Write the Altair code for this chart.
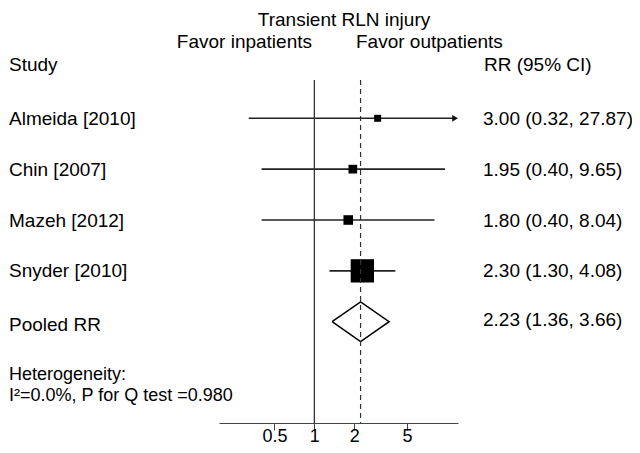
import altair as alt
import pandas as pd

# ---- data ----
studies = ["Almeida [2010]", "Chin [2007]", "Mazeh [2012]", "Snyder [2010]"]
rr = [3.00, 1.95, 1.80, 2.30]
rr_lo = [0.32, 0.40, 0.40, 1.30]
rr_hi = [27.87, 9.65, 8.04, 4.08]
weights = [6.4, 10.0, 12.1, 71.5]
rr_text = ["3.00 (0.32, 27.87)", "1.95 (0.40, 9.65)", "1.80 (0.40, 8.04)", "2.30 (1.30, 4.08)"]

pooled_label = "Pooled RR"
pooled = 2.23
pooled_lo = 1.36
pooled_hi = 3.66
pooled_text = "2.23 (1.36, 3.66)"

x_ticks = [0.5, 1, 2, 5]
x_domain = [0.191, 12.1]
arrow_cap = 11.5

FONT = "Liberation Sans"
FS = 19

df = pd.DataFrame({
    "study": studies, "rr": rr, "lo": rr_lo, "hi": rr_hi, "w": weights,
    "txt": rr_text, "row": list(range(len(studies))),
})
df["hi_c"] = df["hi"].clip(upper=arrow_cap)
df["arrow"] = df["hi"] > arrow_cap
prow = len(studies)
pdf = pd.DataFrame({"label": [pooled_label], "txt": [pooled_text], "row": [prow],
                    "est": [pooled]})

h = 0.39
dia = pd.DataFrame({
    "x": [pooled_lo, pooled, pooled_hi, pooled, pooled_lo],
    "y": [prow, prow - h, prow, prow + h, prow],
    "o": [0, 1, 2, 3, 4],
})

xs = alt.Scale(type="log", domain=x_domain, nice=False, clamp=False)
ys = alt.Scale(domain=[-2.169, 5.992], reverse=True, nice=False, zero=False)

x_axis = alt.Axis(values=x_ticks, title=None, grid=False,
                  labelFontSize=18, labelFont=FONT, labelColor="black", tickSize=7,
                  tickColor="#444", domainColor="#444", labelPadding=11,
                  labelBaseline="alphabetic", labelFlush=False, labelOverlap=False,
                  format="~g")

base = alt.Chart(df)

ci = base.mark_rule(color="#222", strokeWidth=1.6).encode(
    x=alt.X("lo:Q", scale=xs, axis=x_axis),
    x2="hi_c:Q",
    y=alt.Y("row:Q", scale=ys, axis=None),
)

arrow = base.transform_filter("datum.arrow").mark_point(
    shape="triangle-right", filled=True, color="#111", size=45, opacity=1
).encode(x=alt.X("hi_c:Q", scale=xs), y=alt.Y("row:Q", scale=ys))

boxes = base.mark_square(color="black", opacity=1, strokeWidth=0).encode(
    x=alt.X("rr:Q", scale=xs),
    y=alt.Y("row:Q", scale=ys),
    size=alt.Size("w:Q", scale=alt.Scale(domain=[0, 100], range=[0, 760]), legend=None),
)

left_txt = base.mark_text(align="left", baseline="alphabetic", font=FONT, fontSize=FS,
                          dy=6.5, color="black").encode(
    x=alt.value(-210), y=alt.Y("row:Q", scale=ys), text="study:N")
right_txt = base.mark_text(align="left", baseline="alphabetic", font=FONT, fontSize=FS,
                           dy=6.5, color="black").encode(
    x=alt.value(264), y=alt.Y("row:Q", scale=ys), text="txt:N")

p_left = alt.Chart(pdf).mark_text(align="left", baseline="alphabetic", font=FONT,
                                  fontSize=FS, dy=9, color="black").encode(
    x=alt.value(-210), y=alt.Y("row:Q", scale=ys), text="label:N")
p_right = alt.Chart(pdf).mark_text(align="left", baseline="alphabetic", font=FONT,
                                   fontSize=FS, dy=4, color="black").encode(
    x=alt.value(264), y=alt.Y("row:Q", scale=ys), text="txt:N")

diamond = alt.Chart(dia).mark_line(color="black", strokeWidth=1.5).encode(
    x=alt.X("x:Q", scale=xs), y=alt.Y("y:Q", scale=ys), order="o:Q")

null_line = alt.Chart(pd.DataFrame({"v": [1]})).mark_rule(color="#333", strokeWidth=1.3).encode(
    x=alt.X("v:Q", scale=xs), y=alt.value(72), y2=alt.value(415))
pool_line = alt.Chart(pdf).mark_rule(color="#333", strokeWidth=1.2, strokeDash=[5, 4]).encode(
    x=alt.X("est:Q", scale=xs), y=alt.value(72), y2=alt.value(415))

one = pd.DataFrame({"a": [0]})


def label(t, x, y, align="left", fs=FS):
    return alt.Chart(one).mark_text(align=align, baseline="alphabetic", font=FONT,
                                    fontSize=fs, color="black").encode(
        text=alt.value(t), x=alt.value(x), y=alt.value(y))


annotations = [
    label("Transient RLN injury", 125, 17.5, "center"),
    label("Favor inpatients", 93, 40, "right"),
    label("Favor outpatients", 137, 40, "left"),
    label("Study", -210, 62.7),
    label("RR (95% CI)", 265, 62.7),
    label("Heterogeneity:", -210, 372, fs=18),
    label("I\u00b2=0.0%, P for Q test =0.980", -210, 392.5, fs=18),
]

chart = alt.layer(ci, arrow, boxes, diamond, null_line, pool_line,
                  left_txt, right_txt, p_left, p_right, *annotations).properties(
    width=239, height=415,
    background="white",
    autosize=alt.AutoSizeParams(type="none"),
    padding={"left": 211, "top": 0, "right": 174, "bottom": 22},
).configure_view(strokeWidth=0, strokeOpacity=0)

chart.save("out.html", embed_options={"renderer": "svg", "actions": False})
